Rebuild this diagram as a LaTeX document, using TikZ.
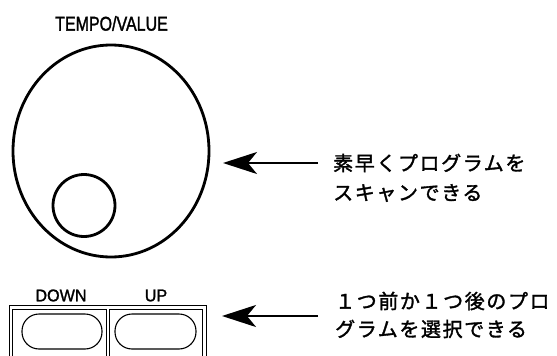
\documentclass[tikz,border=0pt]{standalone}
\usepackage{fontspec}
\setmainfont{Liberation Sans}
\newfontfamily\lab{Liberation Sans}[FakeBold=1.4,FakeStretch=0.95]
\newfontfamily\labn{Liberation Sans}[FakeBold=1.5,FakeStretch=0.8]
\newfontfamily\jp{Noto Sans CJK JP}[LetterSpace=8,FakeBold=1.6]
\usetikzlibrary{arrows.meta,shapes.geometric}
\begin{document}
\begin{tikzpicture}[x=1pt,y=-1pt,
  ring/.style={draw,line width=2.8pt,inner sep=0pt},
  ptr/.style={line width=2.2pt,-{Stealth[length=34pt,width=22pt,inset=9pt]}},
  jptext/.style={anchor=west,inner sep=0pt,font=\jp\fontsize{20}{20}\selectfont},
  frame/.style={line width=0.9pt},
  keybox/.style={draw,line width=1.1pt,rounded corners=17pt,minimum width=80pt,minimum height=35pt,inner sep=0pt},
  lbl/.style={inner sep=0pt,font=\lab\fontsize{#1}{#1}\selectfont}
]
\useasboundingbox (0,0) rectangle (557,356);
\fill[white] (0,0) rectangle (557,356);
% dial
\node[inner sep=0pt,font=\labn\fontsize{20}{20}\selectfont] (title) at (111.5,23.5) {TEMPO/VALUE};
\node[ellipse,ring,minimum width=196pt,minimum height=212pt] (dial) at (111,151) {};
\node[circle,ring,minimum size=62pt] (knob) at (84,205.5) {};
% buttons frame
\draw[frame] (9,356) |- (206,305) -- (206,356);
\draw[frame] (12.5,356) |- (106,309) -- (106,356);
\draw[frame] (109,356) |- (202,309) -- (202,356);
\node[keybox] (down) at (62,331.5) {};
\node[keybox,minimum width=81pt] (up) at (155.5,331.5) {};
\node[lbl=17] (downlbl) at (61,295.5) {DOWN};
\node[lbl=17] (uplbl) at (156,295.5) {UP};
% texts
\node[jptext] (t1a) at (333,163) {素早くプログラムを};
\node[jptext] (t1b) at (333,193) {スキャンできる};
\node[jptext] (t2a) at (335,301) {１つ前か１つ後のプロ};
\node[jptext] (t2b) at (335,329) {グラムを選択できる};
% arrows
\coordinate (tail1) at (318,163);
\coordinate (tip1) at (223,163);
\coordinate (tail2) at (318,316);
\coordinate (tip2) at (222,316);
\draw[ptr] (tail1) -- (tip1);
\draw[ptr] (tail2) -- (tip2);
\end{tikzpicture}
\end{document}
